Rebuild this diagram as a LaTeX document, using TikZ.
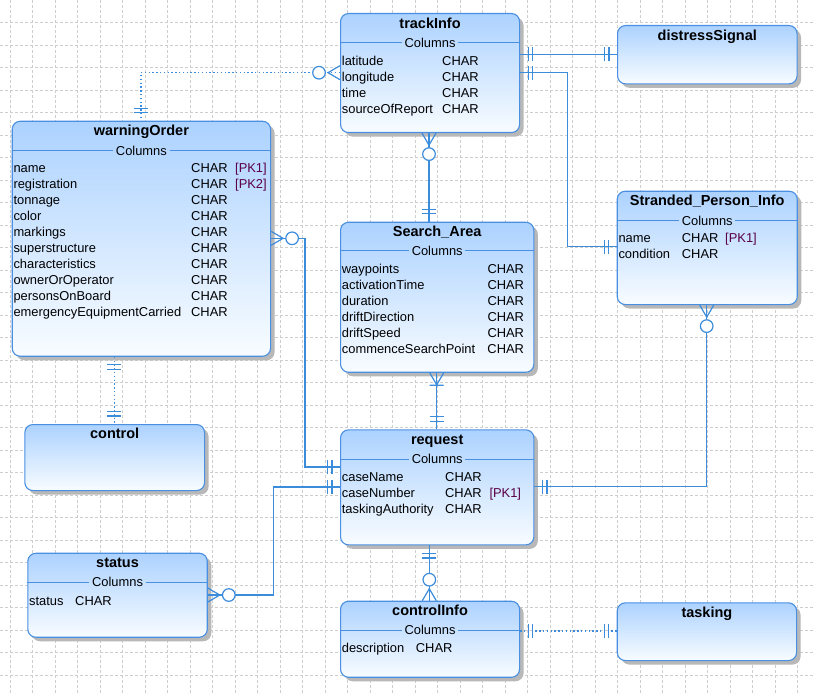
\documentclass[tikz,border=0pt]{standalone}
\usepackage{fontspec}
\setmainfont{Liberation Sans}
\usetikzlibrary{shadows}
\definecolor{entb}{RGB}{74,144,226}
\definecolor{enttop}{RGB}{172,210,255}
\definecolor{entbot}{RGB}{248,252,255}
\definecolor{connc}{RGB}{60,140,220}
\definecolor{pkc}{RGB}{90,0,70}
\definecolor{gridc}{RGB}{205,205,205}
\tikzset{
 ent/.style={draw=entb, line width=1.1pt, rounded corners=8pt, top color=enttop, bottom color=entbot, inner sep=0pt, anchor=north west,
   drop shadow={shadow xshift=4pt, shadow yshift=-4pt, fill=black!28, opacity=1}},
 ttl/.style={font=\bfseries\fontsize{14.5}{16}\selectfont, anchor=base, inner sep=0pt},
 colh/.style={font=\fontsize{12.9}{16}\selectfont, inner sep=2.5pt, anchor=center},
 rows/.style={font=\fontsize{12.9}{16}\selectfont, inner sep=0pt, anchor=base west, align=left},
 sep/.style={draw=entb, line width=1pt},
 conn/.style={draw=connc, line width=1.2pt},
 dotc/.style={conn, dash pattern=on 1.4pt off 2.4pt},
 one/.pic={\draw[connc, line width=1.2pt] (8,-7) -- (8,7) (12.5,-7) -- (12.5,7);},
 onemany/.pic={\draw[connc, line width=1.2pt] (0,-7) -- (12,0) -- (0,7) (12.5,-7) -- (12.5,7);},
 zeromany/.pic={\draw[connc, line width=1.2pt] (0,-7) -- (12,0) -- (0,7);
   \draw[connc, line width=1.2pt, fill=white] (21,0) circle (6.3);}
}
\begin{document}
\begin{tikzpicture}[x=1pt,y=-1pt]
\useasboundingbox (0,0) rectangle (814,695);
\fill[white] (0,0) rectangle (814,695);
% grid
\foreach \gx in {10.2,32.7,...,814} \draw[gridc, line width=0.6pt, dash pattern=on 3pt off 2pt] (\gx,0) -- (\gx,695);
\foreach \gy in {22.5,45,...,695} \draw[gridc, line width=0.6pt, dash pattern=on 3pt off 2pt] (0,\gy) -- (814,\gy);

% ---------- entities ----------
\node[ent, minimum width=179pt, minimum height=119pt] (trackInfo) at (340,13) {};
\node[ent, minimum width=179.5pt, minimum height=58.3pt] (distress) at (617,25) {};
\node[ent, minimum width=258.3pt, minimum height=235pt] (warningOrder) at (11.7,120.7) {};
\node[ent, minimum width=193.3pt, minimum height=150pt] (search) at (340,221.7) {};
\node[ent, minimum width=180pt, minimum height=113.3pt] (stranded) at (616.7,190.7) {};
\node[ent, minimum width=193.3pt, minimum height=115pt] (request) at (340,429.3) {};
\node[ent, minimum width=179.4pt, minimum height=84pt] (status) at (27.3,552.7) {};
\node[ent, minimum width=179pt, minimum height=76pt] (controlInfo) at (340,600.7) {};
\node[ent, minimum width=179.3pt, minimum height=57.7pt] (tasking) at (616.7,602.3) {};
\node[ent, minimum width=179.7pt, minimum height=66pt] (control) at (24.3,424) {};

% titles
\node[ttl] (trackInfo-t) at (trackInfo.north |- 0,29) {trackInfo};
\node[ttl] (distress-t) at (distress.north |- 0,40.3) {distressSignal};
\node[ttl] (warningOrder-t) at (warningOrder.north |- 0,136) {warningOrder};
\node[ttl] (search-t) at (search.north |- 0,236.7) {Search\_Area};
\node[ttl] (stranded-t) at (stranded.north |- 0,206) {Stranded\_Person\_Info};
\node[ttl] (request-t) at (request.north |- 0,444.3) {request};
\node[ttl] (status-t) at (status.north |- 0,567.3) {status};
\node[ttl] (controlInfo-t) at (controlInfo.north |- 0,615.7) {controlInfo};
\node[ttl] (tasking-t) at (tasking.north |- 0,617.3) {tasking};
\node[ttl] (control-t) at (control.north |- 0,438.7) {control};

% column headers with separator lines
\foreach \e/\ly in {trackInfo/42.7, warningOrder/150.7, search/251, stranded/221, request/459, status/582.3, controlInfo/630}{
  \node[colh] (\e-c) at (\e.north |- 0,\ly) {Columns};
  \draw[sep] (\e.west |- \e-c.center) -- (\e-c.west);
  \draw[sep] (\e-c.east) -- (\e.east |- \e-c.center);
}

% rows
\node[rows] (trackInfo-r) at (341.7,65.5) {\begin{tabular}[t]{@{}p{100.3pt}@{}l@{}}latitude & CHAR\\ longitude & CHAR\\ time & CHAR\\ sourceOfReport & CHAR\end{tabular}};
\node[rows] (warningOrder-r) at (13.3,172.7) {\begin{tabular}[t]{@{}p{177.7pt}@{}p{44pt}@{}l@{}}name & CHAR & \textcolor{pkc}{[PK1]}\\ registration & CHAR & \textcolor{pkc}{[PK2]}\\ tonnage & CHAR & \\ color & CHAR & \\ markings & CHAR & \\ superstructure & CHAR & \\ characteristics & CHAR & \\ ownerOrOperator & CHAR & \\ personsOnBoard & CHAR & \\ emergencyEquipmentCarried & CHAR & \end{tabular}};
\node[rows] (search-r) at (341.7,273.3) {\begin{tabular}[t]{@{}p{145.6pt}@{}l@{}}waypoints & CHAR\\ activationTime & CHAR\\ duration & CHAR\\ driftDirection & CHAR\\ driftSpeed & CHAR\\ commenceSearchPoint & CHAR\end{tabular}};
\node[rows] (stranded-r) at (618.3,242.7) {\begin{tabular}[t]{@{}p{63.4pt}@{}p{43.3pt}@{}l@{}}name & CHAR & \textcolor{pkc}{[PK1]}\\ condition & CHAR & \end{tabular}};
\node[rows] (request-r) at (341.7,481.7) {\begin{tabular}[t]{@{}p{103.3pt}@{}p{44.3pt}@{}l@{}}caseName & CHAR & \\ caseNumber & CHAR & \textcolor{pkc}{[PK1]}\\ taskingAuthority & CHAR & \end{tabular}};
\node[rows] (status-r) at (29,605) {\begin{tabular}[t]{@{}p{46pt}@{}l@{}}status & CHAR\end{tabular}};
\node[rows] (controlInfo-r) at (341.7,652.7) {\begin{tabular}[t]{@{}p{74pt}@{}l@{}}description & CHAR\end{tabular}};

% ---------- connectors ----------
% trackInfo - distressSignal
\draw[conn] (trackInfo.east |- 0,54.3) -- (distress.west |- 0,54.3);
\path (trackInfo.east |- 0,54.3) pic {one};
\path (distress.west |- 0,54.3) pic[rotate=180] {one};
% trackInfo - Stranded_Person_Info
\coordinate (b1) at (567.7,72.7);
\draw[conn] (trackInfo.east |- b1) -- (b1) |- (stranded.west |- 0,246.7);
\path (trackInfo.east |- b1) pic {one};
\path (stranded.west |- 0,246.7) pic[rotate=180] {one};
% trackInfo - Search_Area
\draw[conn] (429,0 |- trackInfo.south) -- (429,0 |- search.north);
\path (429,0 |- trackInfo.south) pic[rotate=-90] {zeromany};
\path (429,0 |- search.north) pic[rotate=90] {one};
% trackInfo - warningOrder (dotted)
\coordinate (b2) at (141,72.7);
\draw[dotc] (trackInfo.west |- b2) -- (b2) -- (b2 |- warningOrder.north);
\path (trackInfo.west |- b2) pic[rotate=180] {zeromany};
\path (b2 |- warningOrder.north) pic[rotate=90] {one};
% warningOrder - request
\coordinate (b3) at (305,238.3);
\draw[conn] (warningOrder.east |- b3) -- (b3) |- (request.west |- 0,467);
\path (warningOrder.east |- b3) pic {zeromany};
\path (request.west |- 0,467) pic[rotate=180] {one};
% status - request
\coordinate (b4) at (273.3,595);
\draw[conn] (status.east |- b4) -- (b4) |- (request.west |- 0,487);
\path (status.east |- b4) pic {zeromany};
\path (request.west |- 0,487) pic[rotate=180] {one};
% Search_Area - request
\draw[conn] (436.7,0 |- search.south) -- (436.7,0 |- request.north);
\path (436.7,0 |- search.south) pic[rotate=-90] {onemany};
\path (436.7,0 |- request.north) pic[rotate=90] {one};
% Stranded_Person_Info - request
\coordinate (b5) at (706.7,486.7);
\draw[conn] (b5 |- stranded.south) -- (b5) -- (request.east |- b5);
\path (b5 |- stranded.south) pic[rotate=-90] {zeromany};
\path (request.east |- b5) pic {one};
% request - controlInfo
\draw[conn] (429.3,0 |- request.south) -- (429.3,0 |- controlInfo.north);
\path (429.3,0 |- request.south) pic[rotate=-90] {one};
\path (429.3,0 |- controlInfo.north) pic[rotate=90] {zeromany};
% controlInfo - tasking (dotted)
\draw[dotc] (controlInfo.east |- 0,631) -- (tasking.west |- 0,631);
\path (controlInfo.east |- 0,631) pic {one};
\path (tasking.west |- 0,631) pic[rotate=180] {one};
% warningOrder - control (dotted)
\draw[dotc] (114.3,0 |- warningOrder.south) -- (114.3,0 |- control.north);
\path (114.3,0 |- warningOrder.south) pic[rotate=-90] {one};
\path (114.3,0 |- control.north) pic[rotate=90] {one};
\end{tikzpicture}
\end{document}
